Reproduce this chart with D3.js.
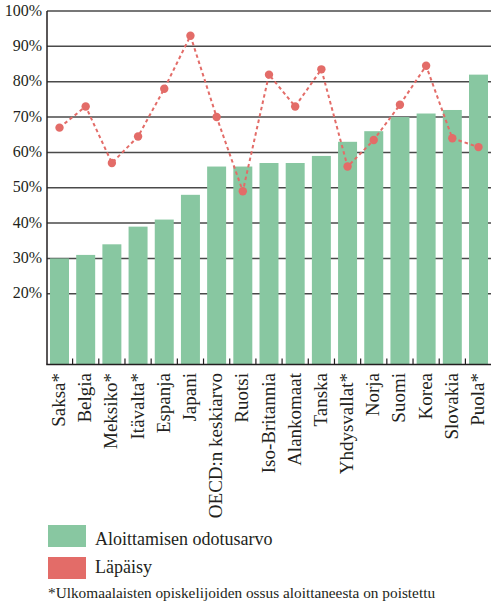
<!DOCTYPE html>
<html>
<head>
<meta charset="utf-8">
<script src="https://cdn.jsdelivr.net/npm/d3@7"></script>
<style>
  body { margin: 0; background: #fff; }
</style>
</head>
<body>
<div id="chart"></div>
<script>
const w = 494;
const h = 603;
const font = "'Liberation Serif'";

const countries = ["Saksa*", "Belgia", "Meksiko*", "Itävalta*", "Espanja", "Japani",
  "OECD:n keskiarvo", "Ruotsi", "Iso-Britannia", "Alankomaat", "Tanska", "Yhdysvallat*",
  "Norja", "Suomi", "Korea", "Slovakia", "Puola*"];
const aloittaminen = [30, 31, 34, 39, 41, 48, 56, 56, 57, 57, 59, 63, 66, 70, 71, 72, 82];
const lapaisy = [67, 73, 57, 64.5, 78, 93, 70, 49, 82, 73, 83.5, 56, 63.5, 73.5, 84.5, 64, 61.5];
const yTicks = [20, 30, 40, 50, 60, 70, 80, 90, 100];
const legendLabels = ["Aloittamisen odotusarvo", "Läpäisy"];
const footnote = "*Ulkomaalaisten opiskelijoiden ossus aloittaneesta on poistettu";

const green = "#88c7a1";
const red = "#e36c68";

let svg = d3.select("#chart").append("svg")
  .attr("width", w)
  .attr("height", h)
  .style("font-family", font);

let xScale = d3.scaleBand()
  .domain(countries)
  .range([47, 491])
  .paddingInner(0.275)
  .paddingOuter(0.115);

let yScale = d3.scaleLinear()
  .domain([0, 100])
  .range([364.5, 11]);

// gridlines
svg.append("g")
  .selectAll("line")
  .data(yTicks)
  .join("line")
  .attr("x1", 47)
  .attr("x2", 491)
  .attr("y1", d => yScale(d))
  .attr("y2", d => yScale(d))
  .attr("stroke", "#4a4a4a")
  .attr("stroke-width", 1.5);

// y labels
let yAxis = svg.append("g")
  .attr("transform", "translate(47,0)")
  .call(d3.axisLeft(yScale).tickValues(yTicks).tickSize(0).tickPadding(5).tickFormat(d => d + "%"));
yAxis.select(".domain").remove();
yAxis.attr("font-family", null).attr("font-size", null);
yAxis.selectAll("text")
  .style("font-family", font)
  .attr("font-size", 16)
  .attr("fill", "#231f20")
  .attr("dy", "0.25em");

// bars
svg.append("g")
  .selectAll("rect")
  .data(aloittaminen)
  .join("rect")
  .attr("x", (d, i) => xScale(countries[i]))
  .attr("y", d => yScale(d))
  .attr("width", xScale.bandwidth())
  .attr("height", d => yScale(0) - yScale(d))
  .attr("fill", green);

// axes lines
svg.append("line")
  .attr("x1", 47).attr("x2", 47)
  .attr("y1", yScale(100)).attr("y2", yScale(0))
  .attr("stroke", "#231f20").attr("stroke-width", 1.5);
svg.append("line")
  .attr("x1", 46.3).attr("x2", 491)
  .attr("y1", yScale(0)).attr("y2", yScale(0))
  .attr("stroke", "#231f20").attr("stroke-width", 1.5);

// ticks between bars
let gap = xScale.step() * xScale.paddingInner();
svg.append("g")
  .selectAll("line")
  .data(countries.slice(1))
  .join("line")
  .attr("x1", d => xScale(d) - gap / 2)
  .attr("x2", d => xScale(d) - gap / 2)
  .attr("y1", yScale(0))
  .attr("y2", yScale(0) - 6)
  .attr("stroke", "#231f20")
  .attr("stroke-width", 1.2);

// x labels
let xAxis = svg.append("g")
  .attr("transform", "translate(0," + yScale(0) + ")")
  .call(d3.axisBottom(xScale).tickSize(0));
xAxis.select(".domain").remove();
xAxis.attr("font-family", null).attr("font-size", null);
xAxis.selectAll("text")
  .style("font-family", font)
  .attr("font-size", 19)
  .attr("fill", "#231f20")
  .attr("text-anchor", "end")
  .attr("dy", null)
  .attr("y", 0)
  .attr("transform", "translate(5.5,8.5) rotate(-90)");

// line
let cx = (d, i) => xScale(countries[i]) + xScale.bandwidth() / 2;
let lineFunction = d3.line()
  .x(cx)
  .y(d => yScale(d));

svg.append("path")
  .attr("d", lineFunction(lapaisy))
  .attr("fill", "none")
  .attr("stroke", red)
  .attr("stroke-width", 2)
  .attr("stroke-dasharray", "3.5,3");

svg.append("g")
  .selectAll("circle")
  .data(lapaisy)
  .join("circle")
  .attr("cx", cx)
  .attr("cy", d => yScale(d))
  .attr("r", 4.2)
  .attr("fill", red);

// legend
let legend = svg.append("g");
legend.selectAll("rect")
  .data(legendLabels)
  .join("rect")
  .attr("x", 48)
  .attr("y", (d, i) => 525 + i * 32)
  .attr("width", 38)
  .attr("height", 22)
  .attr("fill", (d, i) => i === 0 ? green : red);
legend.selectAll("text")
  .data(legendLabels)
  .join("text")
  .attr("x", 95)
  .attr("y", (d, i) => 545 + i * 28)
  .style("font-family", font)
  .attr("font-size", 18)
  .attr("fill", "#231f20")
  .text(d => d);

svg.append("text")
  .attr("x", 48)
  .attr("y", 598)
  .style("font-family", font)
  .attr("font-size", 15.3)
  .attr("fill", "#231f20")
  .text(footnote);
</script>
</body>
</html>
